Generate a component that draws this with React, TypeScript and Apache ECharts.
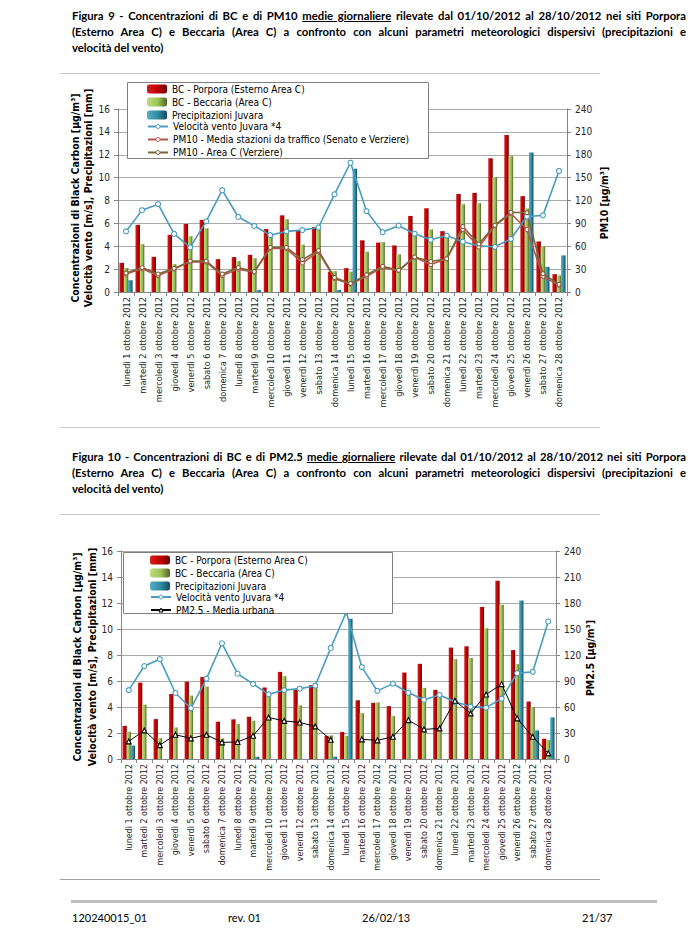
import React, { useEffect, useRef } from "react";
import * as echarts from "echarts";

const categories = [
  "lunedì 1 ottobre 2012", "martedì 2 ottobre 2012", "mercoledì 3 ottobre 2012", "giovedì 4 ottobre 2012",
  "venerdì 5 ottobre 2012", "sabato 6 ottobre 2012", "domenica 7 ottobre 2012", "lunedì 8 ottobre 2012",
  "martedì 9 ottobre 2012", "mercoledì 10 ottobre 2012", "giovedì 11 ottobre 2012", "venerdì 12 ottobre 2012",
  "sabato 13 ottobre 2012", "domenica 14 ottobre 2012", "lunedì 15 ottobre 2012", "martedì 16 ottobre 2012",
  "mercoledì 17 ottobre 2012", "giovedì 18 ottobre 2012", "venerdì 19 ottobre 2012", "sabato 20 ottobre 2012",
  "domenica 21 ottobre 2012", "lunedì 22 ottobre 2012", "martedì 23 ottobre 2012", "mercoledì 24 ottobre 2012",
  "giovedì 25 ottobre 2012", "venerdì 26 ottobre 2012", "sabato 27 ottobre 2012", "domenica 28 ottobre 2012",
];

const bcPorpora = [2.55, 5.87, 3.07, 5.0, 5.95, 6.3, 2.87, 3.05, 3.25, 5.5, 6.7, 5.36, 5.68, 1.78, 2.08, 4.52, 4.32, 4.07, 6.65, 7.32, 5.32, 8.57, 8.67, 11.7, 13.72, 8.38, 4.42, 1.56];
const bcBeccaria = [2.1, 4.18, 1.6, 2.43, 4.88, 5.57, 1.58, 2.7, 2.95, 4.9, 6.37, 4.13, 5.8, 1.82, 1.78, 3.53, 4.36, 3.3, 5.0, 5.47, 4.9, 7.68, 7.77, 10.05, 11.87, 7.3, 3.98, 1.45];
const precipJuvara = [1.03, 0, 0, 0, 0, 0, 0, 0, 0.17, 0, 0, 0, 0, 0.18, 10.78, 0, 0, 0, 0, 0, 0, 0, 0, 0, 0, 12.2, 2.2, 3.2];
const windJuvara4 = [5.3, 7.15, 7.68, 5.08, 3.9, 6.18, 8.9, 6.56, 5.78, 4.97, 5.3, 5.41, 5.64, 8.54, 11.3, 7.07, 5.24, 5.8, 5.1, 4.56, 4.93, 4.4, 4.03, 3.95, 4.64, 6.6, 6.7, 10.58];
const pm10Traffic = [23.5, 30.5, 21.5, 30, 39.5, 39.5, 21.5, 30, 26, 57.5, 57, 38, 53, 17.5, 10.5, 20.5, 32, 28, 45.5, 36, 43.5, 82, 59, 87, 103, 82, 20.5, 8.7];
const pm10AreaC = [25, 32, 23.5, 31, 40.5, 40.5, 23.5, 32, 27, 58.5, 58.5, 42.5, 54.5, 19, 11, 22.7, 33.6, 28.5, 46, 40, 43.5, 86, 63, 87.5, 104.5, 104, 24, 10];
const pm25Urban: (number | null)[] = [20.3, 33, 16, 28, 23.8, 28, 19.2, 19.6, 26.8, 47.9, 44, 42.2, 37.6, 22.2, null, 22.7, 21.5, 25.7, 44.9, 34.2, 35.3, 67.2, 52.6, 74.5, 86.4, 46.9, 25.7, 6.5];

const leftAxis = { min: 0, max: 16, interval: 2 };
const rightAxis = { min: 0, max: 240, interval: 30 };

const S_RED = "BC - Porpora (Esterno Area C)";
const S_GREEN = "BC - Beccaria (Area C)";
const S_TEAL = "Precipitazioni Juvara";
const S_WIND = "Velocità vento Juvara *4";
const S_PM10T = "PM10 - Media stazioni da traffico (Senato e Verziere)";
const S_PM10C = "PM10 - Area C (Verziere)";
const S_PM25 = "PM2.5 - Media urbana";

const FN = '"Liberation Sans Narrow", "DejaVu Sans Condensed", Lato, sans-serif';

const grad = (a: string, b: string, c: string) => ({
  type: "linear", x: 0, y: 0, x2: 1, y2: 0,
  colorStops: [{ offset: 0, color: a }, { offset: 0.55, color: b }, { offset: 1, color: c }],
});
const RED = grad("#D42020", "#C00000", "#6A0000");
const GREEN = grad("#BEDD80", "#9CC255", "#4F6228");
const TEAL = grad("#55AEC6", "#2F8AA3", "#18495A");
const WIND_C = "#4A9CBE";
const PM10T_C = "#B2574E";
const PM10C_C = "#7A6638";

function axesFor(g: number, labelSize: number) {
  const x = {
    type: "category", gridIndex: g, data: categories, boundaryGap: true,
    axisLine: { lineStyle: { color: "#868686", width: 1 } },
    axisTick: { show: true, interval: 0, length: 4, lineStyle: { color: "#868686" } },
    axisLabel: { interval: 0, rotate: 90, fontSize: labelSize, fontFamily: FN, color: "#1a1a1a", margin: 5 },
    splitLine: { show: false },
  };
  const yl = {
    type: "value", gridIndex: g, position: "left", ...leftAxis,
    axisLine: { show: true, lineStyle: { color: "#868686" } },
    axisTick: { show: true, length: 4, lineStyle: { color: "#868686" } },
    axisLabel: { fontSize: 10, fontFamily: FN, color: "#262626", margin: 8 },
    splitLine: { show: true, lineStyle: { color: "#A9A9A9", width: 1 } },
  };
  const yr = {
    type: "value", gridIndex: g, position: "right", ...rightAxis,
    axisLine: { show: true, lineStyle: { color: "#868686" } },
    axisTick: { show: true, length: 4, lineStyle: { color: "#868686" } },
    axisLabel: { fontSize: 10, fontFamily: FN, color: "#262626", margin: 8 },
    splitLine: { show: false },
  };
  return { x, yl, yr };
}

function barSeries(g: number, bw: number) {
  const base = { type: "bar", xAxisIndex: g, yAxisIndex: g * 2, barWidth: bw, barGap: "-4%", silent: true };
  return [
    { ...base, name: S_RED, data: bcPorpora, itemStyle: { color: RED } },
    { ...base, name: S_GREEN, data: bcBeccaria, itemStyle: { color: GREEN } },
    { ...base, name: S_TEAL, data: precipJuvara.map((v) => (v ? v : null)), itemStyle: { color: TEAL } },
  ];
}

function lineSeries(g: number, name: string, data: any[], color: string, axis: number, symbol: string, size: number, width: number) {
  return {
    type: "line", name, data, xAxisIndex: g, yAxisIndex: g * 2 + axis, silent: true,
    symbol, symbolSize: size, showSymbol: true, connectNulls: false,
    lineStyle: { color, width },
    itemStyle: { color: "#ffffff", borderColor: color, borderWidth: 1.1 },
    z: 5,
  };
}

const lineLegendItem = (name: string, color: string) => ({
  name, itemStyle: { color: "#ffffff", borderColor: color, borderWidth: 1 },
});

const legendText = { fontSize: 10, fontFamily: FN, color: "#000" };
const legendBase = {
  orient: "vertical", itemWidth: 20, itemGap: 3, padding: 0, selectedMode: false, z: 12, textStyle: legendText,
};

export default function App() {
  const ref = useRef<HTMLDivElement>(null);
  useEffect(() => {
    if (!ref.current) return;
    const chart = echarts.init(ref.current, null, { renderer: "svg" });
    const a0 = axesFor(0, 9.2);
    const a1 = axesFor(1, 8.9);
    const option: any = {
      animation: false,
      backgroundColor: "#ffffff",
      grid: [
        { left: 118, top: 109, width: 449, height: 183 },
        { left: 121, top: 551, width: 435, height: 208 },
      ],
      xAxis: [a0.x, a1.x],
      yAxis: [a0.yl, a0.yr, a1.yl, a1.yr],
      legend: [
        { ...legendBase, left: 147, top: 84, itemHeight: 9, data: [S_RED, S_GREEN, S_TEAL] },
        {
          ...legendBase, left: 147, top: 121.5, itemHeight: 5,
          data: [lineLegendItem(S_WIND, WIND_C), lineLegendItem(S_PM10T, PM10T_C), lineLegendItem(S_PM10C, PM10C_C)],
        },
        { ...legendBase, left: 150, top: 555, itemHeight: 9, data: [S_RED, S_GREEN, S_TEAL] },
        {
          ...legendBase, left: 150, top: 592, itemHeight: 5,
          data: [lineLegendItem(S_WIND, WIND_C), lineLegendItem(S_PM25, "#000000")],
        },
      ],
      series: [
        ...barSeries(0, 4.5),
        lineSeries(0, S_WIND, windJuvara4, WIND_C, 0, "circle", 5, 1.6),
        lineSeries(0, S_PM10T, pm10Traffic, PM10T_C, 1, "circle", 4, 1.6),
        lineSeries(0, S_PM10C, pm10AreaC, PM10C_C, 1, "circle", 4, 1.6),
        ...barSeries(1, 4.3),
        lineSeries(1, S_WIND, windJuvara4, WIND_C, 0, "circle", 5, 1.6),
        lineSeries(1, S_PM25, pm25Urban, "#000000", 1, "triangle", 5, 1),
      ],
      graphic: {
        elements: [
          { type: "line", z: 1, shape: { x1: 60, y1: 73.5, x2: 600, y2: 73.5 }, style: { stroke: "#C8C8C8", lineWidth: 1 } },
          { type: "line", z: 1, shape: { x1: 60, y1: 427.5, x2: 600, y2: 427.5 }, style: { stroke: "#C8C8C8", lineWidth: 1 } },
          { type: "line", z: 1, shape: { x1: 60, y1: 514.5, x2: 600, y2: 514.5 }, style: { stroke: "#C8C8C8", lineWidth: 1 } },
          { type: "line", z: 1, shape: { x1: 60, y1: 879.5, x2: 600, y2: 879.5 }, style: { stroke: "#A0A0A0", lineWidth: 1 } },
          { type: "rect", z: 1, shape: { x: 71, y: 900, width: 586, height: 3 }, style: { fill: "#BFBFBF" } },
          { type: "rect", z: 10, shape: { x: 127.5, y: 82.5, width: 301, height: 76 }, style: { fill: "#ffffff", stroke: "#7F7F7F", lineWidth: 1 } },
          { type: "rect", z: 10, shape: { x: 123.5, y: 552.5, width: 269, height: 61 }, style: { fill: "#ffffff", stroke: "#7F7F7F", lineWidth: 1 } },
          {
            type: "text", z: 10, x: 81.5, y: 198, rotation: Math.PI / 2,
            style: { text: "Concentrazioni di Black Carbon [µg/m³]\nVelocità vento [m/s], Precipitazioni [mm]", fill: "#000", font: `bold 10.5px ${FN}`, align: "center", verticalAlign: "middle", lineHeight: 13 },
          },
          {
            type: "text", z: 10, x: 604, y: 203, rotation: Math.PI / 2,
            style: { text: "PM10 [µg/m³]", fill: "#000", font: `bold 10.5px ${FN}`, align: "center", verticalAlign: "middle" },
          },
          {
            type: "text", z: 10, x: 84.5, y: 657, rotation: Math.PI / 2,
            style: { text: "Concentrazioni di Black Carbon [µg/m³]\nVelocità vento [m/s], Precipitazioni [mm]", fill: "#000", font: `bold 10.5px ${FN}`, align: "center", verticalAlign: "middle", lineHeight: 15 },
          },
          {
            type: "text", z: 10, x: 590, y: 658, rotation: Math.PI / 2,
            style: { text: "PM2.5 [µg/m³]", fill: "#000", font: `bold 10.5px ${FN}`, align: "center", verticalAlign: "middle" },
          },
        ],
      },
    };
    chart.setOption(option);
    return () => chart.dispose();
  }, []);

  const titleLine: React.CSSProperties = {
    position: "absolute", left: 72, width: 614, height: 16, lineHeight: "16px",
    fontFamily: "Lato, sans-serif", fontWeight: 700, fontSize: 11.3, color: "#000",
    textAlign: "justify", textAlignLast: "justify" as any, whiteSpace: "nowrap", zIndex: 2,
  };
  const lastLine: React.CSSProperties = { ...titleLine, textAlign: "left", textAlignLast: "left" as any };
  const foot: React.CSSProperties = {
    position: "absolute", top: 910, height: 16, lineHeight: "16px", fontFamily: "Lato, sans-serif",
    fontSize: 11, color: "#000", zIndex: 2, whiteSpace: "nowrap",
  };

  return (
    <div style={{ position: "absolute", left: 0, top: 0, width: 691, height: 944, background: "#fff", overflow: "hidden" }}>
      <div ref={ref} style={{ position: "absolute", left: 0, top: 0, width: 691, height: 944 }} />
      <div style={{ ...titleLine, top: 8 }}>
        Figura 9 - Concentrazioni di BC e di PM10 <u>medie giornaliere</u> rilevate dal 01/10/2012 al 28/10/2012 nei siti Porpora
      </div>
      <div style={{ ...titleLine, top: 24 }}>
        (Esterno Area C) e Beccaria (Area C) a confronto con alcuni parametri meteorologici dispersivi (precipitazioni e
      </div>
      <div style={{ ...lastLine, top: 40 }}>velocità del vento)</div>
      <div style={{ ...titleLine, top: 449 }}>
        Figura 10 - Concentrazioni di BC e di PM2.5 <u>medie giornaliere</u> rilevate dal 01/10/2012 al 28/10/2012 nei siti Porpora
      </div>
      <div style={{ ...titleLine, top: 465 }}>
        (Esterno Area C) e Beccaria (Area C) a confronto con alcuni parametri meteorologici dispersivi (precipitazioni e
      </div>
      <div style={{ ...lastLine, top: 481 }}>velocità del vento)</div>
      <div style={{ ...foot, left: 72 }}>120240015_01</div>
      <div style={{ ...foot, left: 228 }}>rev. 01</div>
      <div style={{ ...foot, left: 362 }}>26/02/13</div>
      <div style={{ ...foot, left: 582 }}>21/37</div>
    </div>
  );
}
